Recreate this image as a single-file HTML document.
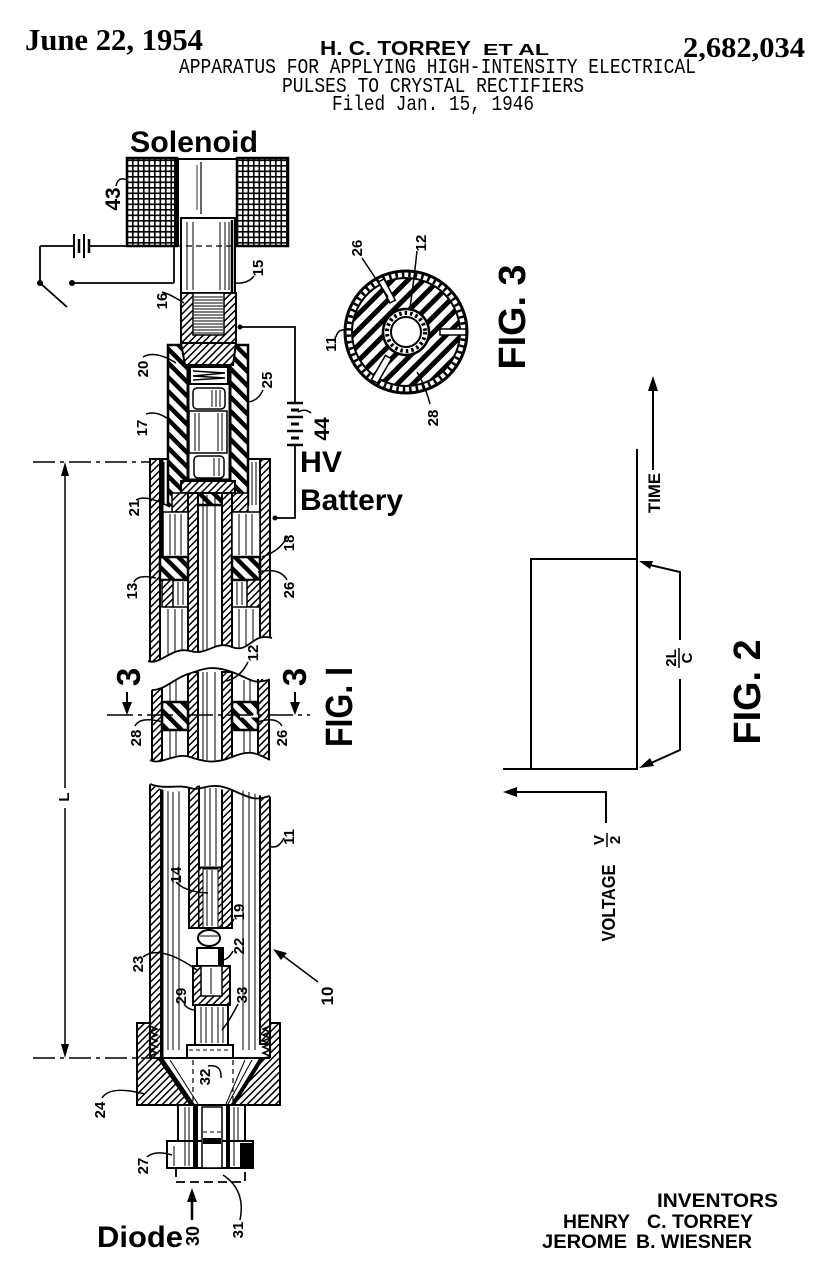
<!DOCTYPE html>
<html><head><meta charset="utf-8"><style>
html,body{margin:0;padding:0;background:#fff;}
svg{display:block;}
.s{font-family:"Liberation Sans",sans-serif;font-weight:bold;}
.sf{font-family:"Liberation Serif",serif;font-weight:bold;}
.m{font-family:"Liberation Mono",monospace;}
.n{font-family:"Liberation Sans",sans-serif;font-weight:bold;font-size:15px;}
</style></head><body>
<svg width="840" height="1280" viewBox="0 0 840 1280" xmlns="http://www.w3.org/2000/svg">
<defs>
<pattern id="grid" width="5.5" height="5.5" patternUnits="userSpaceOnUse"><rect width="5.5" height="5.5" fill="#fff"/><path d="M0 0.8H5.5M0.8 0V5.5" stroke="#000" stroke-width="1.6"/></pattern>
<pattern id="ht" width="5" height="5" patternUnits="userSpaceOnUse" patternTransform="rotate(45)"><rect width="5" height="5" fill="#fff"/><rect width="1.5" height="5" fill="#000"/></pattern>
<pattern id="hk" width="10" height="10" patternUnits="userSpaceOnUse" patternTransform="rotate(-45)"><rect width="10" height="10" fill="#fff"/><rect width="4.5" height="10" fill="#000"/></pattern>
<pattern id="hk3" width="11" height="11" patternUnits="userSpaceOnUse" patternTransform="rotate(45)"><rect width="11" height="11" fill="#fff"/><rect width="5" height="11" fill="#000"/></pattern>
</defs>
<rect width="840" height="1280" fill="#fff"/>

<!-- HEADER -->
<text class="sf" x="25" y="50" font-size="31" textLength="178" lengthAdjust="spacingAndGlyphs">June 22, 1954</text>
<text class="s" x="320" y="55" font-size="20" textLength="151" lengthAdjust="spacingAndGlyphs">H. C. TORREY</text>
<text class="s" x="483" y="55" font-size="16" textLength="66" lengthAdjust="spacingAndGlyphs">ET AL</text>
<text class="sf" x="683" y="57" font-size="29" textLength="122" lengthAdjust="spacingAndGlyphs">2,682,034</text>
<text class="m" x="179" y="73" font-size="21" textLength="517" lengthAdjust="spacingAndGlyphs">APPARATUS FOR APPLYING HIGH-INTENSITY ELECTRICAL</text>
<text class="m" x="282" y="92" font-size="21" textLength="302" lengthAdjust="spacingAndGlyphs">PULSES TO CRYSTAL RECTIFIERS</text>
<text class="m" x="332" y="110" font-size="21" textLength="202" lengthAdjust="spacingAndGlyphs">Filed Jan. 15, 1946</text>

<text class="s" x="130" y="152" font-size="30" textLength="128" lengthAdjust="spacingAndGlyphs">Solenoid</text>

<g stroke="#000" fill="none" stroke-width="2">
<!-- Solenoid coil -->
<rect x="127" y="158" width="50" height="88" fill="url(#grid)" stroke-width="2.5"/>
<rect x="237" y="158" width="51" height="88" fill="url(#grid)" stroke-width="2.5"/>
<rect x="174" y="158" width="5" height="88" fill="#000" stroke="none"/>
<line x1="177" y1="159" x2="237" y2="159"/>
<line x1="201" y1="162" x2="201" y2="214" stroke-width="1.2"/>
<line x1="197" y1="165" x2="197" y2="210" stroke-width="0.8"/>
<!-- plunger 15 -->
<rect x="181" y="218" width="54" height="75" fill="#fff"/>
<g stroke-width="1">
<line x1="187" y1="222" x2="187" y2="290"/><line x1="193" y1="222" x2="193" y2="290"/>
<line x1="220" y1="222" x2="220" y2="290"/><line x1="225" y1="222" x2="225" y2="290"/><line x1="229" y1="222" x2="229" y2="290"/>
</g>
<line x1="232" y1="220" x2="232" y2="292" stroke-width="2.5"/>
<line x1="176" y1="246" x2="235" y2="246" stroke-width="1.2" stroke-dasharray="6 4"/>

<!-- insulator 17 -->
<rect x="168" y="345" width="80" height="160" fill="url(#hk)" stroke-width="2.5"/>
<rect x="188" y="365" width="42" height="115" fill="#fff" stroke-width="3"/>
<rect x="190" y="367" width="38" height="17" fill="#fff" stroke-width="2"/>
<path d="M193 371 L225 373 L193 376 L225 378 L193 380" stroke-width="1.5"/>
<rect x="193" y="388" width="32" height="21" rx="4" fill="#fff" stroke-width="1.5"/>
<rect x="189" y="411" width="38" height="42" fill="#fff" stroke-width="1.5"/>
<rect x="194" y="456" width="30" height="22" rx="4" fill="#fff" stroke-width="1.5"/>
<g stroke-width="1">
<line x1="212" y1="390" x2="212" y2="407"/><line x1="216" y1="390" x2="216" y2="407"/><line x1="220" y1="390" x2="220" y2="407"/>
<line x1="195" y1="413" x2="195" y2="451"/><line x1="199" y1="413" x2="199" y2="451"/><line x1="218" y1="413" x2="218" y2="451"/><line x1="222" y1="413" x2="222" y2="451"/>
<line x1="214" y1="458" x2="214" y2="476"/><line x1="219" y1="458" x2="219" y2="476"/>
</g>

<!-- piece 16 -->
<rect x="181" y="293" width="55" height="50" fill="url(#ht)"/>
<rect x="193" y="293" width="31" height="42" fill="#fff" stroke-width="1.5"/>
<path d="M194 297H223M194 300H223M194 303H223M194 306H223M194 309H223M194 312H223M194 315H223M194 318H223M194 321H223M194 324H223M194 327H223M194 330H223M194 333H223" stroke-width="1"/>
<polygon points="181,343 236,343 233,365 185,365" fill="url(#ht)"/>

<!-- outer tube top section -->
<rect x="150" y="459" width="10" height="205" fill="url(#ht)"/>
<rect x="260" y="459" width="10" height="190" fill="url(#ht)"/>
<line x1="150" y1="459" x2="168" y2="459"/>
<line x1="248" y1="459" x2="270" y2="459"/>
<line x1="162" y1="460" x2="162" y2="557" stroke-width="3"/>
<g stroke-width="1">
<line x1="164" y1="462" x2="164" y2="505"/><line x1="252" y1="462" x2="252" y2="505"/><line x1="256" y1="462" x2="256" y2="505"/>
</g>
<rect x="181" y="481" width="54" height="12" fill="url(#ht)"/>
<rect x="172" y="493" width="16" height="19" fill="url(#ht)" stroke-width="1.5"/>
<rect x="232" y="493" width="16" height="19" fill="url(#ht)" stroke-width="1.5"/>
<rect x="188" y="493" width="10" height="160" fill="url(#ht)"/>
<rect x="222" y="493" width="10" height="160" fill="url(#ht)"/>
<g stroke-width="1">
<line x1="203" y1="495" x2="203" y2="650"/><line x1="207" y1="495" x2="207" y2="650"/><line x1="215" y1="495" x2="215" y2="650"/>
</g>
<rect x="163" y="512" width="25" height="45" fill="#fff" stroke-width="1.5"/>
<rect x="232" y="512" width="28" height="45" fill="#fff" stroke-width="1.5"/>
<g stroke-width="1">
<line x1="170" y1="514" x2="170" y2="555"/><line x1="175" y1="514" x2="175" y2="555"/><line x1="181" y1="514" x2="181" y2="555"/>
<line x1="239" y1="514" x2="239" y2="555"/><line x1="246" y1="514" x2="246" y2="555"/><line x1="252" y1="514" x2="252" y2="555"/>
</g>
<rect x="160" y="557" width="28" height="23" fill="url(#hk)" stroke-width="2.5"/>
<rect x="232" y="557" width="28" height="23" fill="url(#hk)" stroke-width="2.5"/>
<rect x="162" y="580" width="11" height="27" fill="url(#ht)" stroke-width="1.5"/>
<rect x="247" y="580" width="13" height="27" fill="url(#ht)" stroke-width="1.5"/>
<line x1="173" y1="607" x2="188" y2="607" stroke-width="1.5"/>
<line x1="232" y1="607" x2="247" y2="607" stroke-width="1.5"/>
<g stroke-width="1">
<line x1="178" y1="582" x2="178" y2="605"/><line x1="183" y1="582" x2="183" y2="605"/>
<line x1="237" y1="582" x2="237" y2="605"/><line x1="242" y1="582" x2="242" y2="605"/>
<line x1="168" y1="609" x2="168" y2="655"/><line x1="175" y1="609" x2="175" y2="655"/><line x1="182" y1="609" x2="182" y2="655"/>
<line x1="239" y1="609" x2="239" y2="650"/><line x1="246" y1="609" x2="246" y2="650"/><line x1="253" y1="609" x2="253" y2="650"/>
</g>
<path d="M140 661 C155 668,172 646,190 651 S215 640,232 647 S252 632,276 638 L276 668 L140 668 Z" fill="#fff" stroke="none"/>
<path d="M148 661 C160 666,172 646,190 651 S215 640,232 647 S252 632,272 638" stroke-width="1.8"/>

<!-- section 2 -->
<rect x="152" y="674" width="10" height="88" fill="url(#ht)"/>
<rect x="258" y="674" width="11" height="88" fill="url(#ht)"/>
<rect x="188" y="672" width="10" height="90" fill="url(#ht)"/>
<rect x="222" y="672" width="10" height="90" fill="url(#ht)"/>
<g stroke-width="1">
<line x1="203" y1="672" x2="203" y2="760"/><line x1="207" y1="672" x2="207" y2="760"/><line x1="215" y1="672" x2="215" y2="760"/>
<line x1="170" y1="680" x2="170" y2="760"/><line x1="176" y1="680" x2="176" y2="760"/>
<line x1="244" y1="680" x2="244" y2="760"/><line x1="250" y1="680" x2="250" y2="760"/>
</g>
<rect x="162" y="702" width="26" height="28" fill="url(#hk)" stroke-width="2.5"/>
<rect x="232" y="702" width="26" height="28" fill="url(#hk)" stroke-width="2.5"/>
<line x1="240" y1="716" x2="258" y2="716" stroke="#fff" stroke-width="3"/>
<path d="M140 669 L276 669 L276 680 C262 676,250 684,232 672 S210 664,188 674 S165 690,148 690 L140 690 Z" fill="#fff" stroke="none"/>
<path d="M152 690 C165 690,175 678,188 674 S210 664,232 672 S250 684,269 680" stroke-width="1.8"/>
<path d="M140 760 C160 766,175 752,190 757 S215 764,232 757 S255 752,276 762 L276 784 L140 784 Z" fill="#fff" stroke="none"/>
<path d="M150 760 C160 766,175 752,190 757 S215 764,232 757 S255 752,270 760" stroke-width="1.8"/>

<!-- section 3 -->
<rect x="150" y="782" width="11" height="276" fill="url(#ht)"/>
<rect x="260" y="782" width="10" height="262" fill="url(#ht)"/>
<line x1="162" y1="785" x2="162" y2="1060" stroke-width="3"/>
<g stroke-width="1">
<line x1="168" y1="790" x2="168" y2="1050"/><line x1="173" y1="790" x2="173" y2="1050"/><line x1="179" y1="790" x2="179" y2="1050"/>
<line x1="243" y1="790" x2="243" y2="1050"/><line x1="249" y1="790" x2="249" y2="1050"/><line x1="255" y1="790" x2="255" y2="1050"/>
</g>
<rect x="189" y="785" width="10" height="143" fill="url(#ht)"/>
<rect x="222" y="785" width="10" height="143" fill="url(#ht)"/>
<line x1="199" y1="868" x2="222" y2="868" stroke-width="3"/>
<rect x="199" y="868" width="4" height="60" fill="url(#ht)" stroke-width="1"/>
<rect x="218" y="868" width="4" height="60" fill="url(#ht)" stroke-width="1"/>
<g stroke-width="1">
<line x1="205" y1="788" x2="205" y2="866"/><line x1="210" y1="788" x2="210" y2="866"/><line x1="216" y1="788" x2="216" y2="866"/>
<line x1="207" y1="870" x2="207" y2="926"/><line x1="212" y1="870" x2="212" y2="926"/>
</g>
<line x1="189" y1="928" x2="232" y2="928"/>
<ellipse cx="209" cy="938" rx="11" ry="8" fill="#fff"/>
<line x1="200" y1="936" x2="218" y2="936" stroke-width="1"/>
<rect x="197" y="948" width="26" height="18" fill="#fff"/>
<rect x="218" y="948" width="5" height="18" fill="#000" stroke="none"/>
<rect x="193" y="966" width="37" height="39" fill="url(#ht)"/>
<rect x="201" y="966" width="21" height="30" fill="#fff" stroke-width="1.5"/>
<line x1="211" y1="968" x2="211" y2="994" stroke-width="1"/>
<rect x="195" y="1005" width="33" height="40" fill="#fff"/>
<g stroke-width="1">
<line x1="201" y1="1007" x2="201" y2="1043"/><line x1="206" y1="1007" x2="206" y2="1043"/><line x1="212" y1="1007" x2="212" y2="1043"/><line x1="218" y1="1007" x2="218" y2="1043"/><line x1="223" y1="1007" x2="223" y2="1043"/>
</g>
<rect x="187" y="1045" width="46" height="13" fill="#fff"/>
<line x1="189" y1="1050" x2="231" y2="1050" stroke-width="1" stroke-dasharray="4 3"/>
<path d="M140 775 L276 775 L276 796 C262 800,248 788,232 790 S210 780,190 788 S165 790,148 784 L140 784 Z" fill="#fff" stroke="none"/>
<path d="M150 784 C165 790,178 784,190 788 S210 780,232 790 S255 800,270 796" stroke-width="1.8"/>

<!-- coupling 24 -->
<polygon points="137,1023 150,1023 150,1057 162,1059 192,1105 137,1105" fill="url(#ht)" stroke-width="2"/>
<polygon points="270,1023 280,1023 280,1105 233,1105 260,1059 270,1057" fill="url(#ht)" stroke-width="2"/>
<path d="M150 1026 l7 3 l-7 3 l7 3 l-7 3 l7 3 l-7 3 l7 3 l-7 3 l7 3 l-7 3" stroke-width="1.5" fill="none"/>
<path d="M270 1026 l-7 3 l7 3 l-7 3 l7 3 l-7 3 l7 3 l-7 3 l7 3 l-7 3 l7 3" stroke-width="1.5" fill="none"/>
<line x1="160" y1="1058" x2="193" y2="1106" stroke-width="5"/>
<line x1="170" y1="1060" x2="198" y2="1104" stroke-width="1"/>
<line x1="262" y1="1058" x2="232" y2="1106" stroke-width="4"/>
<line x1="252" y1="1060" x2="228" y2="1104" stroke-width="1"/>
<line x1="245" y1="1060" x2="226" y2="1104" stroke-width="1"/>
<line x1="193" y1="1060" x2="193" y2="1104" stroke-width="1.2" stroke-dasharray="5 4"/>
<line x1="233" y1="1060" x2="233" y2="1104" stroke-width="1.2" stroke-dasharray="5 4"/>
<line x1="150" y1="1058" x2="270" y2="1058"/>

<!-- diode holder 27 -->
<rect x="178" y="1105" width="67" height="36" fill="#fff"/>
<rect x="167" y="1141" width="86" height="27" fill="#fff"/>
<rect x="240" y="1143" width="13" height="25" fill="#000" stroke="none"/>
<rect x="193" y="1105" width="5" height="63" fill="#000" stroke="none"/>
<rect x="226" y="1105" width="4" height="63" fill="#000" stroke="none"/>
<rect x="202" y="1107" width="20" height="61" fill="#fff" stroke-width="1.5"/>
<line x1="203" y1="1132" x2="221" y2="1132" stroke-width="1" stroke-dasharray="4 3"/>
<rect x="203" y="1138" width="18" height="6" fill="#000" stroke="none"/>
<g stroke-width="1">
<line x1="185" y1="1107" x2="185" y2="1166"/><line x1="189" y1="1107" x2="189" y2="1166"/>
<line x1="234" y1="1107" x2="234" y2="1166"/><line x1="238" y1="1107" x2="238" y2="1140"/>
<line x1="174" y1="1146" x2="174" y2="1166"/>
</g>
<path d="M176 1168 V1182 H245 V1168" stroke-width="1.8" stroke-dasharray="9 5"/>
<line x1="192" y1="1200" x2="192" y2="1220" stroke-width="2.5"/>
<polygon points="192,1188 187,1202 197,1202" fill="#000" stroke="none"/>

<!-- dimension L -->
<line x1="65" y1="474" x2="65" y2="788" stroke-width="1.5"/>
<line x1="65" y1="808" x2="65" y2="1046" stroke-width="1.5"/>
<polygon points="65,462 61,476 69,476" fill="#000" stroke="none"/>
<polygon points="65,1058 61,1044 69,1044" fill="#000" stroke="none"/>
<line x1="33" y1="462" x2="150" y2="462" stroke-width="1.5" stroke-dasharray="22 5 4 5"/>
<line x1="33" y1="1058" x2="150" y2="1058" stroke-width="1.5" stroke-dasharray="22 5 4 5"/>
<line x1="107" y1="715" x2="310" y2="715" stroke-width="1.5" stroke-dasharray="26 5 4 5"/>
<line x1="127" y1="692" x2="127" y2="704" stroke-width="2"/>
<polygon points="127,715 122,702 132,702" fill="#000" stroke="none"/>
<line x1="295" y1="692" x2="295" y2="704" stroke-width="2"/>
<polygon points="295,715 290,702 300,702" fill="#000" stroke="none"/>

<!-- wiring solenoid -->
<line x1="90" y1="246" x2="127" y2="246" stroke-width="1.8"/>
<line x1="40" y1="246" x2="73" y2="246" stroke-width="1.8"/>
<line x1="74" y1="234" x2="74" y2="258" stroke-width="2"/>
<line x1="79" y1="239" x2="79" y2="253" stroke-width="2.5"/>
<line x1="84" y1="234" x2="84" y2="258" stroke-width="2"/>
<line x1="89" y1="239" x2="89" y2="253" stroke-width="2.5"/>
<line x1="40" y1="246" x2="40" y2="283" stroke-width="1.8"/>
<line x1="40" y1="283" x2="67" y2="307" stroke-width="1.8"/>
<line x1="72" y1="283" x2="174" y2="283" stroke-width="1.8"/>
<line x1="174" y1="283" x2="174" y2="246" stroke-width="1.8"/>
<!-- HV battery wiring -->
<polyline points="240,327 295,327 295,403" stroke-width="1.8"/>
<line x1="287" y1="403" x2="303" y2="403" stroke-width="2.5"/>
<line x1="291" y1="410" x2="299" y2="410" stroke-width="3"/>
<line x1="287" y1="417" x2="303" y2="417" stroke-width="2.5"/>
<line x1="291" y1="424" x2="299" y2="424" stroke-width="3"/>
<line x1="287" y1="431" x2="303" y2="431" stroke-width="2.5"/>
<line x1="291" y1="438" x2="299" y2="438" stroke-width="3"/>
<line x1="287" y1="445" x2="303" y2="445" stroke-width="2.5"/>
<polyline points="295,445 295,518 275,518" stroke-width="1.8"/>

<!-- leaders -->
<g stroke-width="1.5">
<path d="M116 186 Q118 176 127 180"/>
<path d="M254 276 Q248 284 235 283"/>
<path d="M162 292 Q170 294 184 303"/>
<path d="M143 357 Q155 350 176 363"/>
<path d="M263 390 Q258 401 248 402"/>
<path d="M146 414 Q158 410 172 422"/>
<path d="M311 413 Q305 408 298 412"/>
<path d="M136 500 Q146 494 170 507"/>
<path d="M287 536 Q282 550 262 557"/>
<path d="M287 580 Q280 567 258 572"/>
<path d="M134 582 Q138 574 156 578"/>
<path d="M248 662 Q240 678 226 681"/>
<path d="M135 726 Q140 716 163 722"/>
<path d="M282 726 Q276 716 258 722"/>
<path d="M284 838 Q278 850 269 846"/>
<path d="M176 882 Q185 892 208 893"/>
<path d="M234 919 Q228 930 218 928"/>
<path d="M233 951 Q228 960 222 960"/>
<path d="M143 957 Q160 944 197 970"/>
<path d="M184 1004 Q188 1010 196 1010"/>
<path d="M238 1004 Q230 1020 222 1030"/>
<path d="M208 1066 Q222 1064 221 1078"/>
<path d="M102 1098 Q110 1085 145 1094"/>
<path d="M147 1157 Q155 1150 172 1155"/>
<path d="M240 1220 Q246 1190 223 1175"/>
<path d="M318 982 L282 955"/>
</g>
<polygon points="273,949 287,953 281,960" fill="#000" stroke="none"/>
</g>
<circle cx="40" cy="283" r="3" fill="#000"/>
<circle cx="72" cy="283" r="3" fill="#000"/>
<circle cx="240" cy="327" r="2.5" fill="#000"/>
<circle cx="275" cy="518" r="2.5" fill="#000"/>

<text class="s" x="300" y="472" font-size="30" textLength="42" lengthAdjust="spacingAndGlyphs">HV</text>
<text class="s" x="300" y="510" font-size="30" textLength="103" lengthAdjust="spacingAndGlyphs">Battery</text>
<text class="s" x="97" y="1247" font-size="30" textLength="86" lengthAdjust="spacingAndGlyphs">Diode</text>

<!-- FIG. 3 -->
<g stroke="#000">
<circle cx="406" cy="332" r="61" fill="#fff" stroke-width="3"/>
<circle cx="406" cy="332" r="57.5" fill="none" stroke-width="5" stroke-dasharray="2.5 4"/>
<circle cx="406" cy="332" r="54" fill="url(#hk3)" stroke-width="2"/>
<circle cx="406" cy="332" r="23" fill="#fff" stroke-width="2.5"/>
<circle cx="406" cy="332" r="19" fill="none" stroke-width="4" stroke-dasharray="2.5 3"/>
<circle cx="406" cy="332" r="15" fill="#fff" stroke-width="2"/>
<rect x="440" y="329" width="26" height="6" fill="#fff" stroke-width="1.5"/>
<rect x="-3" y="-12" width="6" height="24" fill="#fff" stroke-width="1.5" transform="translate(387,291) rotate(-28)"/>
<rect x="-3" y="-14" width="7" height="28" fill="#fff" stroke-width="1.5" transform="translate(381,369) rotate(30)"/>
<path d="M362 258 L388 297" fill="none" stroke-width="1.5"/>
<path d="M417 251 Q414 280 410 308" fill="none" stroke-width="1.5"/>
<path d="M336 337 Q338 329 345 330" fill="none" stroke-width="1.5"/>
<path d="M417 372 Q425 385 430 404" fill="none" stroke-width="1.5"/>
</g>

<!-- FIG. 2 -->
<g stroke="#000" fill="none" stroke-width="2">
<line x1="653" y1="470" x2="653" y2="388"/>
<polygon points="653,376 648,391 658,391" fill="#000" stroke="none"/>
<line x1="637" y1="449" x2="637" y2="770"/>
<polyline points="531,770 531,559 637,559"/>
<line x1="503" y1="769" x2="637" y2="769"/>
<polyline points="650,565 680,572 680,640"/>
<polygon points="639,561 653,561 650,569" fill="#000" stroke="none"/>
<polyline points="680,679 680,750 651,763"/>
<polygon points="639,768 650,758 654,766" fill="#000" stroke="none"/>
<polyline points="606,823 606,792 515,792"/>
<polygon points="503,792 517,787 517,797" fill="#000" stroke="none"/>
</g>
<text class="s" transform="translate(660,493) rotate(-90)" text-anchor="middle" font-size="17" textLength="40" lengthAdjust="spacingAndGlyphs">TIME</text>
<text class="s" transform="translate(615,903) rotate(-90)" text-anchor="middle" font-size="18" textLength="77" lengthAdjust="spacingAndGlyphs">VOLTAGE</text>
<g transform="translate(607,840) rotate(-90)">
<text class="s" x="0" y="-3" text-anchor="middle" font-size="15">V</text>
<line x1="-7" y1="0" x2="7" y2="0" stroke="#000" stroke-width="1.5"/>
<text class="s" x="0" y="13" text-anchor="middle" font-size="15">2</text>
</g>
<g transform="translate(679,658) rotate(-90)">
<text class="s" x="0" y="-3" text-anchor="middle" font-size="15">2L</text>
<line x1="-10" y1="0" x2="10" y2="0" stroke="#000" stroke-width="1.5"/>
<text class="s" x="0" y="13" text-anchor="middle" font-size="15">C</text>
</g>

<!-- FIG labels -->
<text class="s" transform="translate(525,317) rotate(-90)" text-anchor="middle" font-size="38" textLength="105" lengthAdjust="spacingAndGlyphs">FIG. 3</text>
<text class="s" transform="translate(760,692) rotate(-90)" text-anchor="middle" font-size="38" textLength="105" lengthAdjust="spacingAndGlyphs">FIG. 2</text>
<text class="s" transform="translate(352,707) rotate(-90)" text-anchor="middle" font-size="38" textLength="80" lengthAdjust="spacingAndGlyphs">FIG. I</text>
<text class="s" transform="translate(140,677) rotate(-90)" text-anchor="middle" font-size="33">3</text>
<text class="s" transform="translate(306,677) rotate(-90)" text-anchor="middle" font-size="33">3</text>

<!-- reference numerals -->
<g class="n">
<text transform="translate(120,199) rotate(-90)" text-anchor="middle" font-size="21">43</text>
<text transform="translate(329,429) rotate(-90)" text-anchor="middle" font-size="21">44</text>
<text transform="translate(263,268) rotate(-90)" text-anchor="middle">15</text>
<text transform="translate(167,301) rotate(-90)" text-anchor="middle">16</text>
<text transform="translate(148,369) rotate(-90)" text-anchor="middle">20</text>
<text transform="translate(272,380) rotate(-90)" text-anchor="middle">25</text>
<text transform="translate(147,428) rotate(-90)" text-anchor="middle">17</text>
<text transform="translate(139,508) rotate(-90)" text-anchor="middle">21</text>
<text transform="translate(294,543) rotate(-90)" text-anchor="middle">18</text>
<text transform="translate(294,590) rotate(-90)" text-anchor="middle">26</text>
<text transform="translate(137,591) rotate(-90)" text-anchor="middle">13</text>
<text transform="translate(258,653) rotate(-90)" text-anchor="middle">12</text>
<text transform="translate(141,738) rotate(-90)" text-anchor="middle">28</text>
<text transform="translate(287,738) rotate(-90)" text-anchor="middle">26</text>
<text transform="translate(294,837) rotate(-90)" text-anchor="middle">11</text>
<text transform="translate(181,875) rotate(-90)" text-anchor="middle">14</text>
<text transform="translate(244,912) rotate(-90)" text-anchor="middle">19</text>
<text transform="translate(244,946) rotate(-90)" text-anchor="middle">22</text>
<text transform="translate(143,964) rotate(-90)" text-anchor="middle">23</text>
<text transform="translate(186,996) rotate(-90)" text-anchor="middle">29</text>
<text transform="translate(247,995) rotate(-90)" text-anchor="middle">33</text>
<text transform="translate(333,996) rotate(-90)" text-anchor="middle" font-size="17">10</text>
<text transform="translate(210,1077) rotate(-90)" text-anchor="middle">32</text>
<text transform="translate(105,1110) rotate(-90)" text-anchor="middle">24</text>
<text transform="translate(148,1166) rotate(-90)" text-anchor="middle">27</text>
<text transform="translate(199,1236) rotate(-90)" text-anchor="middle" font-size="18">30</text>
<text transform="translate(243,1230) rotate(-90)" text-anchor="middle">31</text>
<text transform="translate(69,797) rotate(-90)" text-anchor="middle">L</text>
<text transform="translate(362,248) rotate(-90)" text-anchor="middle">26</text>
<text transform="translate(426,243) rotate(-90)" text-anchor="middle">12</text>
<text transform="translate(336,344) rotate(-90)" text-anchor="middle">11</text>
<text transform="translate(438,418) rotate(-90)" text-anchor="middle">28</text>
</g>

<!-- inventors -->
<text class="s" x="657" y="1207" font-size="19" textLength="121" lengthAdjust="spacingAndGlyphs">INVENTORS</text>
<text class="s" x="563" y="1228" font-size="19" textLength="67" lengthAdjust="spacingAndGlyphs">HENRY</text>
<text class="s" x="647" y="1228" font-size="19" textLength="106" lengthAdjust="spacingAndGlyphs">C. TORREY</text>
<text class="s" x="542" y="1248" font-size="19" textLength="85" lengthAdjust="spacingAndGlyphs">JEROME</text>
<text class="s" x="636" y="1248" font-size="19" textLength="116" lengthAdjust="spacingAndGlyphs">B. WIESNER</text>
</svg>
</body></html>
